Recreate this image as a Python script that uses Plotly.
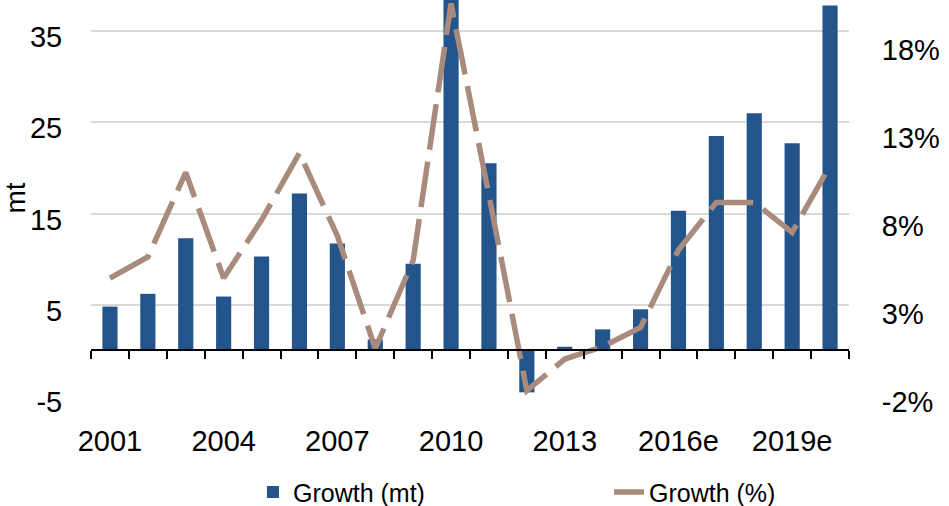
import plotly.graph_objects as go

AZUL = "#24548C"
TOSTADO = "#A98B7D"
GRILLA = "#D9D9D9"

anios = [str(a) for a in range(2001, 2016)] + [f"{a}e" for a in range(2016, 2021)]
crecimiento_mt = [4.8, 6.2, 12.3, 5.9, 10.3, 17.2, 11.7, 1.2, 9.5, 40.0,
                  20.5, -4.6, 0.4, 2.3, 4.5, 15.3, 23.5, 26.0, 22.7, 37.8]
crecimiento_pct = [4.7, 5.9, 10.7, 4.7, 8.0, 11.8, 7.1, 0.7, 5.7, 20.3,
                   9.4, -1.7, 0.1, 0.8, 1.9, 6.3, 9.0, 9.0, 7.3, 11.1]
ticks_x = ["2001", "2004", "2007", "2010", "2013", "2016e", "2019e"]
ticks_izq = [-5, 5, 15, 25, 35]
ticks_der = [-2, 3, 8, 13, 18]

FUENTE = "Liberation Sans, Arial, sans-serif"

fig = go.Figure()
fig.add_bar(
    x=anios, y=crecimiento_mt, name="Growth (mt)",
    marker=dict(color=AZUL, line=dict(width=0)),
    xaxis="x", yaxis="y", legendwidth=311,
)
fig.add_trace(go.Scatter(
    x=anios, y=crecimiento_pct, name="Growth (%)", mode="lines",
    line=dict(color=TOSTADO, width=5.5, dash="46px,12px"),
    xaxis="x2", yaxis="y2", legendwidth=130,
))

rango_izq = [-5, 38.4]
pos_cero = (0 - rango_izq[0]) / (rango_izq[1] - rango_izq[0])

fig.update_layout(
    width=949, height=506,
    paper_bgcolor="white", plot_bgcolor="white",
    font=dict(family=FUENTE, color="black", size=29),
    margin=dict(l=91, r=100, t=0, b=110, autoexpand=False),
    bargap=0.6,
    showlegend=True,
    legend=dict(
        orientation="h", x=0.2137, xanchor="left", y=-0.243, yanchor="middle",
        font=dict(size=25), bgcolor="rgba(0,0,0,0)",
    ),
    xaxis=dict(
        type="category", categoryorder="array", categoryarray=anios,
        tickvals=ticks_x, ticktext=ticks_x, automargin=False,
        ticks="outside", ticklen=19, tickcolor="rgba(0,0,0,0)",
        showline=False, showgrid=False, zeroline=False,
    ),
    xaxis2=dict(
        type="category", categoryorder="array", categoryarray=anios,
        overlaying="x", matches="x", anchor="free", position=pos_cero,
        showline=True, linecolor="black", linewidth=2, automargin=False,
        ticks="outside", tickson="boundaries", ticklen=8, tickwidth=2,
        tickcolor="black", showticklabels=False, showgrid=False,
    ),
    yaxis=dict(
        range=rango_izq, tickvals=ticks_izq,
        ticktext=[str(v) for v in ticks_izq], automargin=False,
        showgrid=True, gridcolor=GRILLA, gridwidth=1.5, zeroline=False,
        showline=False, ticks="outside", ticklen=22, tickcolor="rgba(0,0,0,0)",
        ticklabelshift=6,
        title=dict(text="mt", font=dict(size=28), standoff=2),
    ),
    yaxis2=dict(
        range=[-2, 20.5], tickvals=ticks_der,
        ticktext=[f"{v}%" for v in ticks_der], automargin=False,
        overlaying="y", side="right", anchor="x2",
        showgrid=False, zeroline=False, showline=False,
        ticks="outside", ticklen=26, tickcolor="rgba(0,0,0,0)",
        ticklabelshift=6,
    ),
)

# la página trae 8 px de margen en el body; se quita para que encaje
fig.write_html("out.html", config={"displayModeBar": False},
               post_script="document.body.style.margin='0';")
